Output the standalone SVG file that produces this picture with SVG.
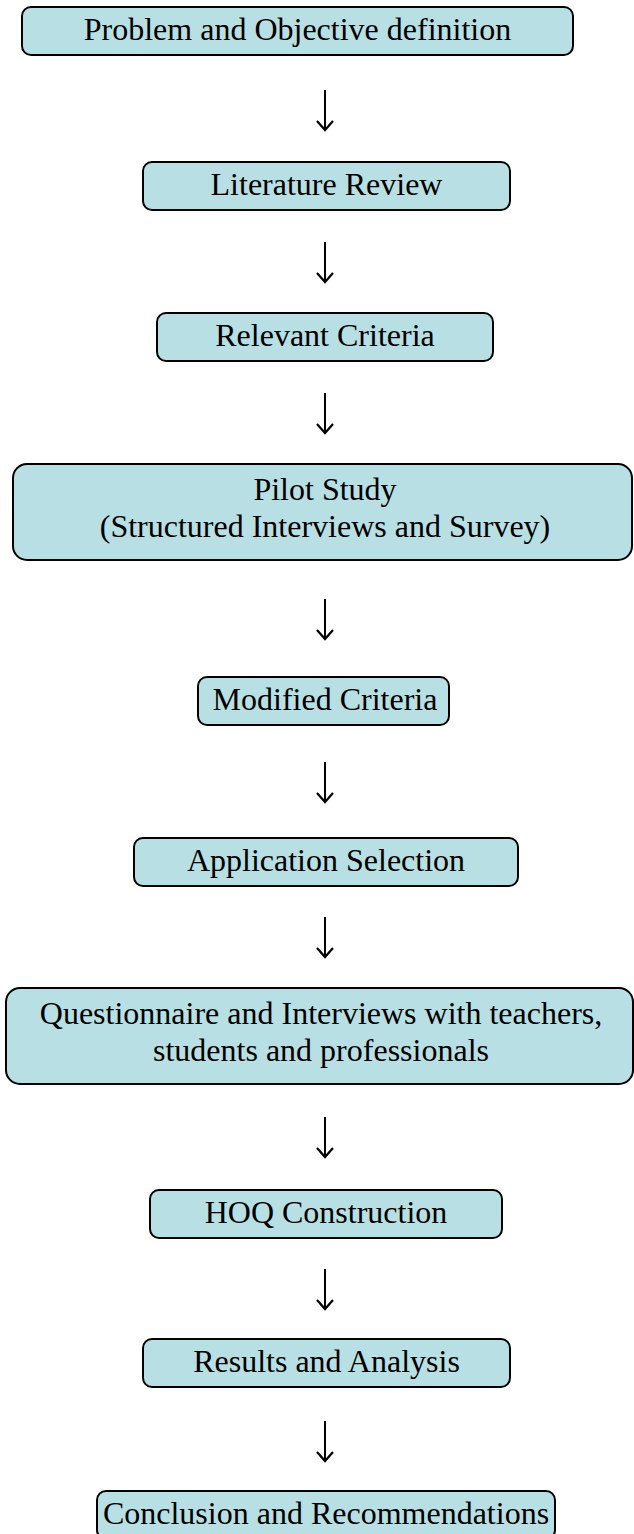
<svg xmlns="http://www.w3.org/2000/svg" width="634" height="1534" viewBox="0 0 634 1534">
<defs>
<style>
.box{fill:#b8dfe3;stroke:#000;stroke-width:2}
.t{font-family:"Liberation Serif","Times New Roman",serif;font-size:32px;fill:#000;text-anchor:middle}
.arr{stroke:#000;stroke-width:2;fill:none}
</style>
<marker id="ah" markerWidth="14" markerHeight="20" refX="11" refY="9" orient="auto" markerUnits="userSpaceOnUse" viewBox="0 0 14 20">
<polyline points="2,1 11,9 2,17" fill="none" stroke="#000" stroke-width="2.2"/>
</marker>
</defs>
<rect width="634" height="1534" fill="#fff"/>
<g id="connectors">
<line class="arr" x1="325" y1="90" x2="325" y2="130" marker-end="url(#ah)"/>
<line class="arr" x1="325" y1="242" x2="325" y2="282" marker-end="url(#ah)"/>
<line class="arr" x1="325" y1="393" x2="325" y2="433" marker-end="url(#ah)"/>
<line class="arr" x1="325" y1="599" x2="325" y2="639" marker-end="url(#ah)"/>
<line class="arr" x1="325" y1="762" x2="325" y2="802" marker-end="url(#ah)"/>
<line class="arr" x1="325" y1="917" x2="325" y2="957" marker-end="url(#ah)"/>
<line class="arr" x1="325" y1="1117" x2="325" y2="1157" marker-end="url(#ah)"/>
<line class="arr" x1="325" y1="1269" x2="325" y2="1309" marker-end="url(#ah)"/>
<line class="arr" x1="325" y1="1421" x2="325" y2="1461" marker-end="url(#ah)"/>
</g>
<g id="n1"><rect class="box" x="22" y="7" width="551" height="48" rx="9"/><text class="t" x="297.5" y="40">Problem and Objective definition</text></g>
<g id="n2"><rect class="box" x="143" y="162" width="367" height="48" rx="9"/><text class="t" x="326.5" y="195">Literature Review</text></g>
<g id="n3"><rect class="box" x="157" y="313" width="336" height="48" rx="9"/><text class="t" x="325" y="346">Relevant Criteria</text></g>
<g id="n4"><rect class="box" x="13" y="464" width="619" height="96" rx="14"/><text class="t" x="325" y="500">Pilot Study</text><text class="t" x="325" y="537">(Structured Interviews and Survey)</text></g>
<g id="n5"><rect class="box" x="198" y="677" width="251" height="48" rx="9"/><text class="t" x="325" y="710">Modified Criteria</text></g>
<g id="n6"><rect class="box" x="134" y="838" width="384" height="48" rx="9"/><text class="t" x="326" y="871">Application Selection</text></g>
<g id="n7"><rect class="box" x="6" y="988" width="627" height="96" rx="14"/><text class="t" x="321" y="1024">Questionnaire and Interviews with teachers,</text><text class="t" x="321" y="1061">students and professionals</text></g>
<g id="n8"><rect class="box" x="150" y="1190" width="352" height="48" rx="9"/><text class="t" x="326" y="1223">HOQ Construction</text></g>
<g id="n9"><rect class="box" x="143" y="1339" width="367" height="48" rx="9"/><text class="t" x="326.5" y="1372">Results and Analysis</text></g>
<g id="n10"><rect class="box" x="97" y="1491" width="458" height="48" rx="9"/><text class="t" x="326" y="1524">Conclusion and Recommendations</text></g>
</svg>
